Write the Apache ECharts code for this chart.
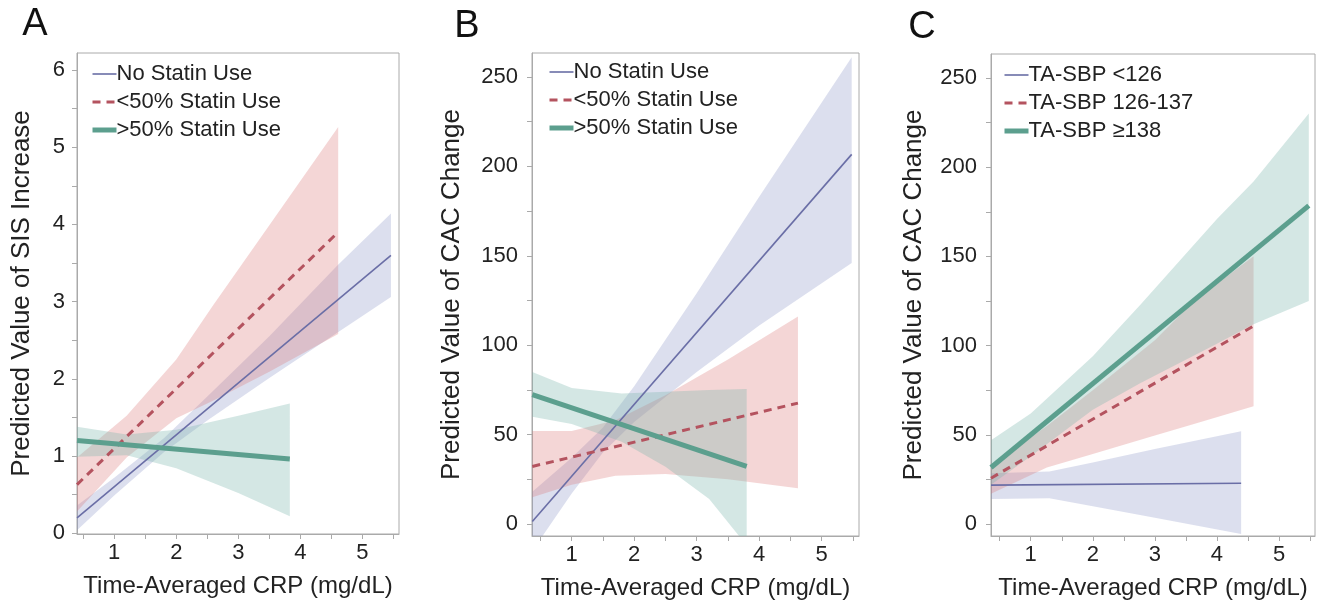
<!DOCTYPE html>
<html><head><meta charset="utf-8">
<script src="https://cdn.jsdelivr.net/npm/echarts@6/dist/echarts.min.js"></script>
<style>html,body{margin:0;padding:0;background:#fff}#c{width:1323px;height:608px}</style>
</head><body><div id="c"></div><script>
// ---------- Data ----------
const xTickLabels = [1, 2, 3, 4, 5];
const xTicks = [0.5, 1, 1.5, 2, 2.5, 3, 3.5, 4, 4.5, 5, 5.5];
const yTickLabelsA = [0, 1, 2, 3, 4, 5, 6];
const yTicksA = [0, 0.5, 1, 1.5, 2, 2.5, 3, 3.5, 4, 4.5, 5, 5.5, 6];
const yTickLabelsBC = [0, 50, 100, 150, 200, 250];
const yTicksBC = [0, 25, 50, 75, 100, 125, 150, 175, 200, 225, 250];

const namesAB = ['No Statin Use', '<50% Statin Use', '>50% Statin Use'];
const namesC = ['TA-SBP <126', 'TA-SBP 126-137', 'TA-SBP \u2265138'];

// Panel A : Predicted SIS increase
const A_none_lineX = [0.40, 5.46], A_none_lineY = [0.20, 3.60];
const A_none_bandX = [0.40, 1.0, 1.8, 2.5, 3.5, 4.6, 5.46];
const A_none_lo    = [0.04, 0.49, 1.05, 1.46, 2.01, 2.60, 3.06];
const A_none_hi    = [0.36, 0.72, 1.23, 1.77, 2.55, 3.47, 4.14];
const A_lt50_lineX = [0.40, 4.61], A_lt50_lineY = [0.63, 3.90];
const A_lt50_bandX = [0.40, 1.2, 2.0, 2.6, 3.5, 4.61];
const A_lt50_lo    = [0.28, 0.98, 1.49, 1.72, 2.09, 2.58];
const A_lt50_hi    = [0.98, 1.52, 2.25, 2.96, 3.99, 5.26];
const A_gt50_lineX = [0.40, 3.83], A_gt50_lineY = [1.20, 0.96];
const A_gt50_bandX = [0.40, 1.2, 2.0, 3.0, 3.83];
const A_gt50_lo    = [0.99, 1.01, 0.84, 0.52, 0.22];
const A_gt50_hi    = [1.38, 1.28, 1.34, 1.52, 1.68];

// Panel B : Predicted CAC change by statin use
const B_none_lineX = [0.37, 5.48], B_none_lineY = [1.4, 206.7];
const B_none_bandX = [0.37, 1.0, 1.5, 2.0, 3.0, 4.0, 5.48];
const B_none_lo    = [-15, 17, 40, 57, 85, 111, 146];
const B_none_hi    = [18, 37, 54, 77, 129, 183, 261];
const B_lt50_lineX = [0.37, 4.62], B_lt50_lineY = [32.2, 67.6];
const B_lt50_bandX = [0.37, 1.0, 1.7, 2.5, 3.5, 4.62];
const B_lt50_lo    = [15, 22, 27, 28, 25, 20];
const B_lt50_hi    = [52, 52, 58, 72, 92, 116];
const B_gt50_lineX = [0.37, 3.80], B_gt50_lineY = [72.4, 32.2];
const B_gt50_bandX = [0.37, 1.0, 1.8, 2.5, 3.2, 3.8];
const B_gt50_lo    = [60, 56, 46, 32, 14, -12];
const B_gt50_hi    = [85, 76, 73, 74, 75, 75.5];

// Panel C : Predicted CAC change by TA-SBP
const C_low_lineX = [0.36, 4.39], C_low_lineY = [21.8, 22.9];
const C_low_bandX = [0.36, 1.3, 2.0, 3.0, 4.39];
const C_low_lo    = [14, 14.5, 10, 3.5, -5.6];
const C_low_hi    = [28.5, 29.5, 34.5, 42, 52];
const C_mid_lineX = [0.36, 4.59], C_mid_lineY = [25.7, 111];
const C_mid_bandX = [0.36, 1.26, 2.0, 3.0, 3.63, 4.59];
const C_mid_lo    = [17, 31.7, 39.3, 49.6, 56, 66];
const C_mid_hi    = [33, 55, 75, 103, 125, 150];
const C_high_lineX = [0.36, 5.48], C_high_lineY = [31.7, 178.4];
const C_high_bandX = [0.36, 1.0, 2.0, 2.77, 4.0, 4.59, 5.48];
const C_high_lo    = [22, 38, 64, 79, 101, 112, 125];
const C_high_hi    = [47, 62, 94, 123, 171, 192, 230];

// ---------- Styles ----------
const FONT = 'Liberation Sans, Arial, Helvetica, sans-serif';
const BLUE = '#6a6ea6', RED = '#b4535f', GREEN = '#5c9f8e';
const BLUE_F = 'rgba(138,148,198,0.30)', RED_F = 'rgba(218,118,118,0.30)', GREEN_F = 'rgba(120,180,170,0.32)';
const AXC = '#aaaaaa';
const STYLES = [
  { color: BLUE, width: 1.6, type: 'solid', legendType: 'solid' },
  { color: RED, width: 3, type: [8, 6], legendType: [8, 6] },
  { color: GREEN, width: 5, type: 'solid', legendType: 'solid' }
];

function zip(xs, ys) { return xs.map((x, i) => [x, ys[i]]); }

function band(gi, xs, lo, hi, fill) {
  const pts = xs.map((x, i) => [x, lo[i], hi[i]]);
  return {
    type: 'custom', xAxisIndex: gi, yAxisIndex: gi, silent: true, z: 1,
    data: pts, encode: { x: 0, y: [1, 2] },
    renderItem: function (params, api) {
      if (params.dataIndex !== 0) return null;
      const top = pts.map(d => api.coord([d[0], d[2]]));
      const bot = pts.map(d => api.coord([d[0], d[1]])).reverse();
      const cs = params.coordSys;
      return {
        type: 'polygon', shape: { points: top.concat(bot) }, style: { fill: fill },
        clipPath: { type: 'rect', shape: { x: cs.x, y: cs.y, width: cs.width, height: cs.height } }
      };
    }
  };
}
function line(gi, name, xs, ys, k) {
  const s = STYLES[k];
  return {
    type: 'line', name: name, xAxisIndex: gi, yAxisIndex: gi, z: 3,
    data: zip(xs, ys), symbol: 'none', silent: true, animation: false,
    lineStyle: { color: s.color, width: s.width, type: s.type },
    itemStyle: { color: s.color }
  };
}

const grids = [
  { left: 77, top: 53, width: 322, height: 481 },
  { left: 532, top: 53, width: 327, height: 483 },
  { left: 991, top: 54, width: 324, height: 482 }
].map(g => Object.assign(g, { show: true, borderColor: AXC, borderWidth: 1, outerBoundsMode: 'none', containLabel: false }));

const xRanges = [[0.40, 5.59], [0.365, 5.597], [0.36, 5.58]];
const xAxes = xRanges.map((r, i) => ({
  gridIndex: i, type: 'value', min: r[0], max: r[1],
  name: 'Time-Averaged CRP (mg/dL)', nameLocation: 'middle', nameGap: 40,
  nameTextStyle: { fontSize: 24, color: '#222', fontFamily: FONT },
  axisLine: { show: true, onZero: false, lineStyle: { color: AXC } },
  axisTick: { show: true, length: 5, customValues: xTicks, lineStyle: { color: AXC } },
  axisLabel: { customValues: xTickLabels, fontSize: 22, color: '#222', fontFamily: FONT, margin: 8 },
  splitLine: { show: false }
}));
const yConf = [
  { min: -0.01, max: 6.22, ticks: yTicksA, labels: yTickLabelsA, name: 'Predicted Value of SIS Increase', gap: 42, margin: 12 },
  { min: -6.7, max: 263.4, ticks: yTicksBC, labels: yTickLabelsBC, name: 'Predicted Value of CAC Change', gap: 67, margin: 14 },
  { min: -6.7, max: 263.4, ticks: yTicksBC, labels: yTickLabelsBC, name: 'Predicted Value of CAC Change', gap: 64, margin: 14 }
];
const yAxes = yConf.map((c, i) => ({
  gridIndex: i, type: 'value', min: c.min, max: c.max,
  name: c.name, nameLocation: 'middle', nameGap: c.gap,
  nameTextStyle: { fontSize: 26, color: '#222', fontFamily: FONT },
  axisLine: { show: true, onZero: false, lineStyle: { color: AXC } },
  axisTick: { show: true, length: 5, customValues: c.ticks, lineStyle: { color: AXC } },
  axisLabel: { customValues: c.labels, fontSize: 22, color: '#222', fontFamily: FONT, margin: c.margin },
  splitLine: { show: false }
}));

const series = [
  band(0, A_none_bandX, A_none_lo, A_none_hi, BLUE_F),
  band(0, A_lt50_bandX, A_lt50_lo, A_lt50_hi, RED_F),
  band(0, A_gt50_bandX, A_gt50_lo, A_gt50_hi, GREEN_F),
  line(0, namesAB[0], A_none_lineX, A_none_lineY, 0),
  line(0, namesAB[1], A_lt50_lineX, A_lt50_lineY, 1),
  line(0, namesAB[2], A_gt50_lineX, A_gt50_lineY, 2),

  band(1, B_none_bandX, B_none_lo, B_none_hi, BLUE_F),
  band(1, B_lt50_bandX, B_lt50_lo, B_lt50_hi, RED_F),
  band(1, B_gt50_bandX, B_gt50_lo, B_gt50_hi, GREEN_F),
  line(1, namesAB[0], B_none_lineX, B_none_lineY, 0),
  line(1, namesAB[1], B_lt50_lineX, B_lt50_lineY, 1),
  line(1, namesAB[2], B_gt50_lineX, B_gt50_lineY, 2),

  band(2, C_low_bandX, C_low_lo, C_low_hi, BLUE_F),
  band(2, C_mid_bandX, C_mid_lo, C_mid_hi, RED_F),
  band(2, C_high_bandX, C_high_lo, C_high_hi, GREEN_F),
  line(2, namesC[0], C_low_lineX, C_low_lineY, 0),
  line(2, namesC[1], C_mid_lineX, C_mid_lineY, 1),
  line(2, namesC[2], C_high_lineX, C_high_lineY, 2)
];

function legend(left, top, names) {
  return {
    left: left, top: top, orient: 'vertical', itemGap: 0, itemWidth: 24, itemHeight: 14, padding: 0,
    selectedMode: false,
    data: names.map((n, k) => ({ name: n, lineStyle: { color: STYLES[k].color, width: STYLES[k].width, type: STYLES[k].legendType } })),
    itemStyle: { opacity: 0, borderWidth: 0 },
    textStyle: { fontSize: 22, lineHeight: 28, color: '#222', fontFamily: FONT, padding: [0, 0, 0, -5] }
  };
}

const letters = [['A', 35, 25], ['B', 467, 27], ['C', 922, 28]].map(l => ({
  type: 'text', x: l[1], y: l[2], silent: true,
  style: { text: l[0], font: '38px ' + FONT, fill: '#111', textAlign: 'center', textVerticalAlign: 'middle' }
}));

const chart = echarts.init(document.getElementById('c'), null, { renderer: 'canvas' });
chart.setOption({
  animation: false,
  backgroundColor: '#ffffff',
  grid: grids, xAxis: xAxes, yAxis: yAxes, series: series,
  legend: [legend(90, 60, namesAB), legend(547, 58, namesAB), legend(1002, 61, namesC)],
  graphic: letters
});
</script></body></html>
